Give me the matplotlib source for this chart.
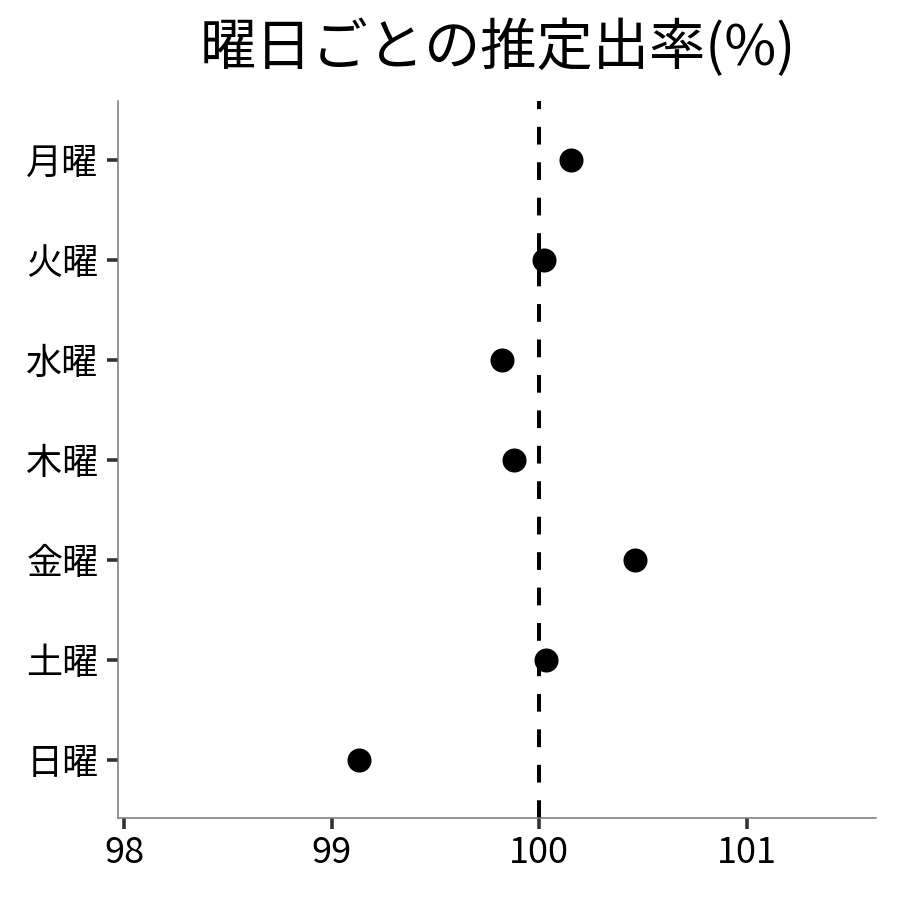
import matplotlib
matplotlib.use("Agg")
import matplotlib.pyplot as plt

plt.rcParams['font.family'] = ['Noto Sans CJK JP', 'DejaVu Sans']

days = ['月曜', '火曜', '水曜', '木曜', '金曜', '土曜', '日曜']
rates = [100.15, 100.02, 99.82, 99.88, 100.46, 100.03, 99.13]
xticks = [98, 99, 100, 101]
ref_value = 100
title = '曜日ごとの推定出率(%)'

fig = plt.figure(figsize=(9, 9), dpi=100)
ax = fig.add_axes([0.131, 0.091, 0.842, 0.797])

ypos = list(range(len(days) - 1, -1, -1))
ax.axvline(ref_value, color='black', lw=2.9, ls=(0, (4.4, 4.4)), zorder=1)
ax.scatter(rates, ypos, s=300, color='black', zorder=3, linewidths=0)

ax.set_xlim(97.97, 101.62)
ax.set_ylim(-0.58, 6.59)
ax.set_xticks(xticks)
ax.set_xticklabels([str(x) for x in xticks])
ax.set_yticks(ypos)
ax.set_yticklabels(days)

for s in ['top', 'right']:
    ax.spines[s].set_visible(False)
for s in ['left', 'bottom']:
    ax.spines[s].set_color('#777777')
    ax.spines[s].set_linewidth(1.1)

ax.tick_params(axis='both', length=8, width=2.6, color='#333333', labelsize=26,
               labelcolor='black')
ax.tick_params(axis='y', pad=6)
ax.tick_params(axis='x', pad=4)

fig.suptitle(title, fontsize=40.5, y=0.978, va='top', x=0.553)

fig.savefig('out.png', dpi=100, facecolor='white')
